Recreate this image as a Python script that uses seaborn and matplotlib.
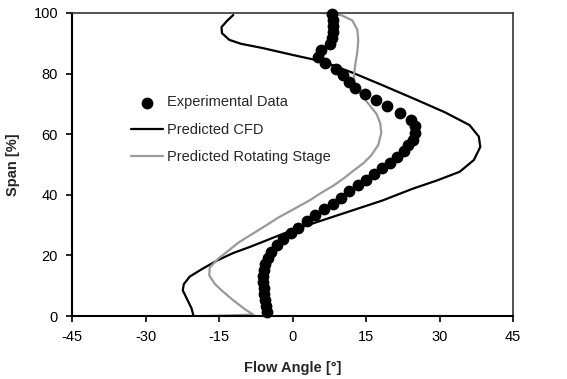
import matplotlib
matplotlib.use("Agg")
import matplotlib.pyplot as plt
import seaborn as sns
import pandas as pd

# Experimental data
exp_span = [1.3, 3.3, 5.3, 7.3, 9.3, 11.3, 13.3, 15.3, 17.3, 19.3, 21.1, 23.3, 25.5, 27.4,
            29.1, 31.3, 33.2, 35.2, 37.0, 38.9, 41.1, 43.1, 44.9, 46.9, 48.8, 50.6, 52.6,
            54.5, 56.3, 58.2, 60.4, 62.6, 64.8, 66.9, 69.2, 71.3, 73.2, 75.1, 77.3, 79.5,
            81.4, 83.6, 85.6, 87.8, 89.8, 91.8, 93.8, 95.8, 97.8, 99.5]
exp_angle = [-5.2, -5.4, -5.6, -5.8, -5.9, -6.0, -6.0, -5.9, -5.6, -5.1, -4.3, -3.1, -1.9,
             -0.3, 1.2, 3.0, 4.6, 6.4, 8.2, 9.9, 11.6, 13.3, 14.9, 16.6, 18.2, 19.8, 21.4,
             22.7, 23.6, 24.5, 25.0, 25.0, 24.2, 22.0, 19.3, 17.0, 14.7, 12.8, 11.5, 10.2,
             8.8, 6.6, 5.2, 5.7, 7.6, 8.0, 8.2, 8.3, 8.2, 8.0]

# Predicted CFD
cfd_span = [0.0, 2.5, 5.5, 8.5, 10.5, 13.0, 15.5, 18.5, 20.8, 23.0, 25.5, 28.2, 31.5, 34.8,
            38.1, 42.0, 44.7, 47.6, 51.5, 55.8, 59.2, 63.0, 67.2, 71.6, 75.9, 80.1, 83.9,
            86.1, 88.4, 89.8, 91.1, 93.3, 95.3, 97.5, 99.3]
cfd_angle = [-20.2, -20.6, -21.5, -22.4, -22.2, -21.0, -18.5, -15.2, -12.1, -8.4, -4.5, -0.3,
             5.9, 12.1, 18.3, 24.5, 29.4, 34.1, 37.0, 38.3, 38.0, 36.1, 31.1, 24.9, 18.7,
             12.5, 6.3, 0.1, -6.1, -10.5, -12.9, -14.4, -14.5, -13.3, -12.1]

# Predicted Rotating Stage
rot_span = [0.0, 0.5, 2.0, 5.2, 8.5, 10.7, 13.4, 16.0, 18.9, 21.7, 24.4, 27.0, 29.3, 32.6,
            35.5, 38.1, 40.8, 43.1, 45.5, 47.8, 50.5, 53.1, 56.5, 60.5, 63.5, 66.5, 70.0,
            72.8, 76.0, 79.0, 83.0, 87.0, 91.0, 94.5, 97.5, 99.2, 99.8, 100.0]
rot_angle = [-17.5, -8.0, -9.5, -12.1, -14.5, -15.9, -17.0, -16.9, -15.2, -13.0, -10.9, -8.3,
             -6.0, -2.8, 0.5, 3.4, 6.0, 8.4, 10.5, 12.3, 14.5, 16.1, 17.5, 18.1, 17.9, 17.2,
             15.5, 14.0, 12.8, 12.5, 12.8, 13.2, 13.4, 13.2, 12.2, 10.0, 8.0, 5.4]

x_ticks = [-45, -30, -15, 0, 15, 30, 45]
y_ticks = [0, 20, 40, 60, 80, 100]

sns.set_style("white")
plt.rcParams["font.family"] = ["Liberation Sans", "DejaVu Sans"]

exp_df = pd.DataFrame({"angle": exp_angle, "span": exp_span})
cfd_df = pd.DataFrame({"angle": cfd_angle, "span": cfd_span})
rot_df = pd.DataFrame({"angle": rot_angle, "span": rot_span})

fig = plt.figure(figsize=(5.67, 3.79), dpi=100)
ax = fig.add_axes([0.127, 0.166, 0.778, 0.800])

sns.scatterplot(data=exp_df, x="angle", y="span", ax=ax, color="black", s=72,
                edgecolor="black", linewidth=0, label="Experimental Data", zorder=3,
                clip_on=False)
sns.lineplot(data=cfd_df, x="angle", y="span", ax=ax, sort=False, estimator=None,
             color="black", linewidth=1.6, label="Predicted CFD", zorder=2)
sns.lineplot(data=rot_df, x="angle", y="span", ax=ax, sort=False, estimator=None,
             color="#999999", linewidth=1.6, label="Predicted Rotating Stage", zorder=2)

ax.set_xlim(-45, 45)
ax.set_ylim(0, 100)
ax.set_xticks(x_ticks)
ax.set_yticks(y_ticks)
ax.set_xticklabels([str(t) for t in x_ticks])
ax.set_yticklabels([str(t) for t in y_ticks])
ax.tick_params(axis="both", direction="out", length=4, width=1.2, labelsize=10.5,
               colors="black", pad=6)
ax.tick_params(bottom=True, left=True)

for side in ["left", "bottom"]:
    ax.spines[side].set_color("black")
    ax.spines[side].set_linewidth(1.5)
for side in ["top", "right"]:
    ax.spines[side].set_color("#333333")
    ax.spines[side].set_linewidth(1.2)
    ax.spines[side].set_visible(True)

ax.set_xlabel("Flow Angle [°]", fontsize=10.5, fontweight="bold", labelpad=12)
ax.set_ylabel("Span [%]", fontsize=10.5, fontweight="bold", labelpad=10)

leg = ax.legend(loc="center left", bbox_to_anchor=(0.12, 0.615), frameon=False,
                fontsize=10.5, handlelength=2.2, handletextpad=0.3, labelspacing=0.9,
                borderaxespad=0)

fig.savefig("out.png", dpi=100)
